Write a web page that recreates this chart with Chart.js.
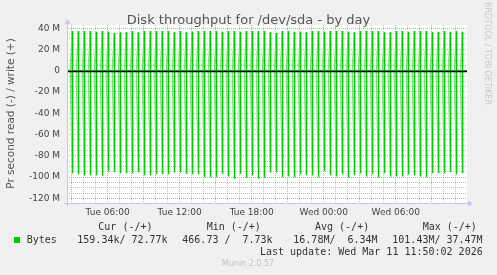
<!DOCTYPE html>
<html>
<head>
<meta charset="utf-8">
<script src="https://cdn.jsdelivr.net/npm/chart.js@4/dist/chart.umd.min.js"></script>
<style>
  html, body { margin: 0; padding: 0; background: #f0f0f0; }
</style>
</head>
<body>
<canvas id="chart" width="497" height="275"></canvas>
<script>
// --- data (MB/s, hours after Tue 00:00) ---
const title = 'Disk throughput for /dev/sda - by day';
const yTitle = 'Pr second read (-) / write (+)';
const firstSpike = 3.05;
const spikeStep = 0.5;
const writePeaks = [
  37.3, 37.3, 37.3, 37.3, 36.7, 37.3, 36.7, 35.4, 36.1, 36.1, 37.3, 36.1, 37.3, 37.3, 37.3, 37.3,
  37.3, 36.1, 37.3, 36.1, 36.7, 37.3, 37.3, 37.3, 37.3, 36.7, 37.3, 37.3, 36.7, 37.3, 37.3, 37.3,
  37.3, 36.1, 35.4, 37.3, 37.3, 36.7, 36.7, 36.1, 37.3, 37.3, 36.7, 37.3, 37.3, 37.3, 36.7, 36.1,
  37.3, 37.3, 37.3, 37.3, 36.1, 36.1, 37.3, 37.3, 36.7, 37.3, 37.3, 37.3, 36.1, 36.7, 37.3, 36.7,
  37.3, 36.7
];
const readPeaks = [
  -96.0, -97.1, -98.0, -98.0, -98.0, -98.7, -94.5, -95.0, -96.0, -96.0, -96.0, -95.0, -98.0, -98.0, -97.0, -97.0,
  -97.0, -95.0, -95.0, -96.5, -97.0, -97.0, -99.6, -99.6, -99.6, -96.5, -99.0, -101.2, -96.5, -100.3, -98.0, -101.2,
  -100.3, -95.0, -95.0, -99.6, -99.0, -99.6, -97.0, -98.0, -98.0, -99.6, -94.0, -98.0, -99.0, -97.0, -100.0, -98.0,
  -96.0, -99.0, -97.0, -100.0, -95.9, -99.0, -99.0, -99.0, -97.1, -98.0, -99.0, -99.6, -95.9, -95.9, -95.9, -95.0,
  -97.1, -95.9
];
const timeLabels = { 6: 'Tue 06:00', 12: 'Tue 12:00', 18: 'Tue 18:00', 24: 'Wed 00:00', 30: 'Wed 06:00' };
const legendHeads = ['Cur (-/+)', 'Min (-/+)', 'Avg (-/+)', 'Max (-/+)'];
const legendValues = ['159.34k/ 72.77k', '466.73 /  7.73k', '16.78M/  6.34M', '101.43M/ 37.47M'];
const lastUpdate = 'Last update: Wed Mar 11 11:50:02 2026';

const xMin = 2.608, xMax = 35.94;
const yMin = -124.4, yMax = 43.0;
const riseH = 0.17, fallH = 0.03;

function buildSeries(peaks) {
  const pts = [{ x: xMin, y: 0 }];
  peaks.forEach((v, i) => {
    const t = firstSpike + spikeStep * i;
    pts.push({ x: t - riseH, y: 0 }, { x: t, y: v }, { x: t + fallH, y: 0 });
  });
  pts.push({ x: xMax, y: 0 });
  return pts;
}

const dark = '#00cc00';
const light = '#7ee07e';
const segColor = ctx => Math.abs(ctx.p1.parsed.y) > Math.abs(ctx.p0.parsed.y) ? light : dark;

const mkSet = (label, peaks) => ({
  label: label,
  data: buildSeries(peaks),
  borderColor: dark,
  borderWidth: 1.3,
  backgroundColor: 'rgba(0,204,0,0.3)',
  fill: 'origin',
  pointRadius: 0,
  tension: 0,
  segment: { borderColor: segColor }
});

const decor = {
  id: 'decor',
  beforeDraw(chart) {
    const c = chart.ctx, a = chart.chartArea;
    c.save();
    c.fillStyle = '#f0f0f0';
    c.fillRect(0, 0, chart.width, chart.height);
    c.fillStyle = '#ffffff';
    c.fillRect(a.left, a.top, a.right - a.left, a.bottom - a.top);
    c.restore();
  },
  afterDatasetsDraw(chart) {
    const c = chart.ctx, a = chart.chartArea;
    const y0 = Math.round(chart.scales.y.getPixelForValue(0)) + 0.5;
    c.save();
    // zero rule
    c.strokeStyle = '#000000';
    c.lineWidth = 1.6;
    c.beginPath(); c.moveTo(a.left, y0); c.lineTo(a.right, y0); c.stroke();
    // axes with arrows
    c.strokeStyle = '#c4c8ee';
    c.fillStyle = '#c4c8ee';
    c.lineWidth = 1;
    c.beginPath();
    c.moveTo(a.left + 0.5, a.bottom + 3); c.lineTo(a.left + 0.5, a.top - 3);
    c.moveTo(a.left - 3, a.bottom + 0.5); c.lineTo(a.right + 3, a.bottom + 0.5);
    c.stroke();
    c.beginPath();
    c.moveTo(a.left + 0.5, a.top - 6); c.lineTo(a.left - 2.5, a.top - 1); c.lineTo(a.left + 3.5, a.top - 1);
    c.closePath(); c.fill();
    c.beginPath();
    c.moveTo(a.right + 6, a.bottom + 0.5); c.lineTo(a.right + 1, a.bottom - 2.5); c.lineTo(a.right + 1, a.bottom + 3.5);
    c.closePath(); c.fill();
    c.restore();
  },
  afterDraw(chart) {
    const c = chart.ctx;
    c.save();
    // title
    c.fillStyle = '#555555';
    c.font = '13px "DejaVu Sans"';
    c.textAlign = 'center';
    c.textBaseline = 'alphabetic';
    c.fillText(title, 248.5, 24);
    // y title
    c.save();
    c.translate(11, 113.5);
    c.rotate(-Math.PI / 2);
    c.font = '10.5px "DejaVu Sans"';
    c.textBaseline = 'middle';
    c.fillText(yTitle, 0, 0);
    c.restore();
    // rrdtool credit
    c.save();
    c.translate(487.5, 53.5);
    c.rotate(Math.PI / 2);
    c.fillStyle = '#c8c8c8';
    c.font = '8px "DejaVu Sans"';
    c.textBaseline = 'middle';
    c.fillText('RRDTOOL / TOBI OETIKER', 0, 0);
    c.restore();
    // legend
    c.font = '10px "DejaVu Sans Mono"';
    c.fillStyle = '#333333';
    c.textBaseline = 'middle';
    c.textAlign = 'left';
    const headX = [98.3, 206.7, 315, 422.7];
    const valX = [77.3, 182.3, 293.3, 392.3];
    legendHeads.forEach((h, i) => c.fillText(h, headX[i], 227.5));
    c.fillText('Bytes', 26.7, 240.5);
    legendValues.forEach((v, i) => c.fillText(v, valX[i], 240.5));
    c.textAlign = 'right';
    c.fillText(lastUpdate, 482.7, 252);
    c.fillStyle = dark;
    c.fillRect(14, 237, 6, 6);
    // munin version
    c.textAlign = 'center';
    c.fillStyle = '#c4c4c4';
    c.font = '8px "DejaVu Sans"';
    c.fillText('Munin 2.0.57', 248, 263.5);
    c.restore();
  }
};

new Chart(document.getElementById('chart'), {
  type: 'line',
  data: {
    datasets: [mkSet('read', readPeaks), mkSet('write', writePeaks)]
  },
  options: {
    responsive: false,
    animation: false,
    devicePixelRatio: 1,
    layout: { padding: { left: 0, top: 25, right: 30, bottom: 0 } },
    plugins: { legend: { display: false }, tooltip: { enabled: false }, title: { display: false } },
    scales: {
      x: {
        type: 'linear',
        min: xMin,
        max: xMax,
        afterFit: s => { s.height = 72; },
        border: { display: false, dash: [1, 1] },
        grid: {
          drawTicks: false,
          color: ctx => (ctx.tick && ctx.tick.value % 3 === 0) ? 'rgba(230,120,120,0.75)' : 'rgba(170,170,170,0.7)'
        },
        ticks: {
          stepSize: 1,
          includeBounds: false,
          autoSkip: false,
          maxRotation: 0,
          padding: 4,
          color: '#444444',
          font: { family: 'DejaVu Sans', size: 9 },
          callback: v => timeLabels[v] || ''
        }
      },
      y: {
        min: yMin,
        max: yMax,
        afterFit: s => { s.width = 67; },
        border: { display: false, dash: [1, 1] },
        grid: {
          drawTicks: false,
          color: ctx => (ctx.tick && Math.abs(ctx.tick.value % 20) < 1e-6) ? 'rgba(230,120,120,0.75)' : 'rgba(170,170,170,0.7)'
        },
        ticks: {
          stepSize: 5,
          includeBounds: false,
          autoSkip: false,
          padding: 7,
          color: '#444444',
          font: { family: 'DejaVu Sans', size: 9 },
          callback: v => Math.abs(v % 20) < 1e-6 ? (v === 0 ? '0' : v + ' M') : ''
        }
      }
    }
  },
  plugins: [decor]
});
</script>
</body>
</html>
